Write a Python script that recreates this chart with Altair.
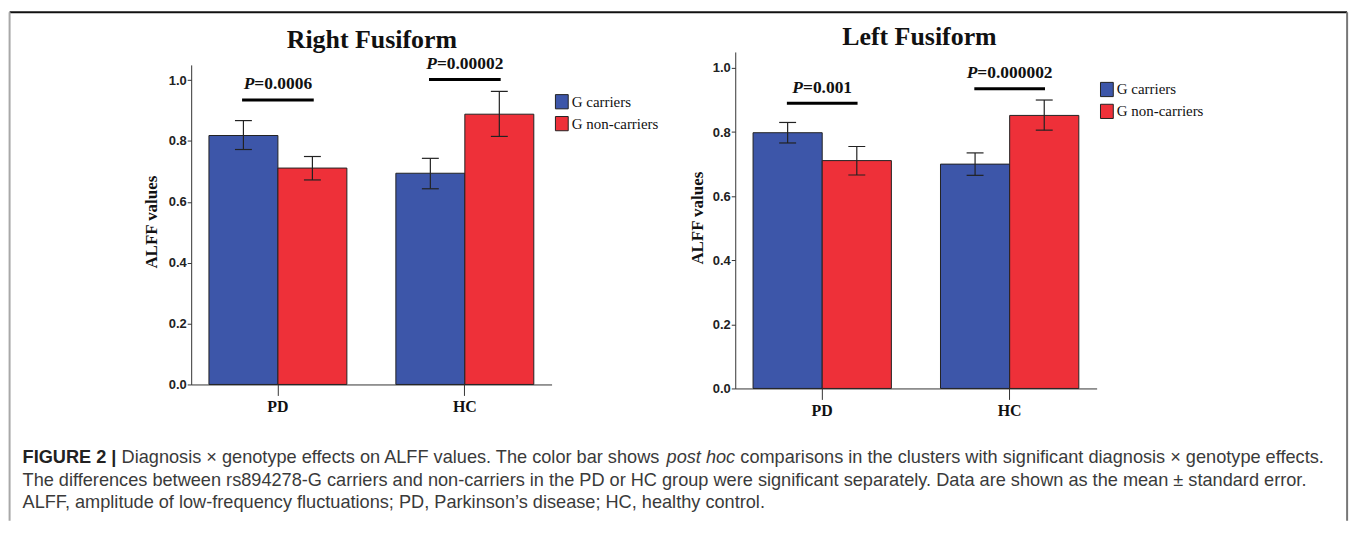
import altair as alt
import pandas as pd

# ---------------- data ----------------
groups = ["PD", "HC"]
genotypes = ["G carriers", "G non-carriers"]
colors = ["#3d56a9", "#ee3039"]
y_ticks = [0.0, 0.2, 0.4, 0.6, 0.8, 1.0]

right_title = "Right Fusiform"
right_mean = [0.818, 0.711, 0.694, 0.888]   # PD-carriers, PD-non, HC-carriers, HC-non
right_low = [0.772, 0.672, 0.643, 0.815]
right_high = [0.867, 0.749, 0.743, 0.963]
right_p = ["0.0006", "0.00002"]
right_p_y = [0.935, 1.002]

left_title = "Left Fusiform"
left_mean = [0.798, 0.711, 0.700, 0.852]
left_low = [0.766, 0.666, 0.665, 0.806]
left_high = [0.830, 0.755, 0.735, 0.900]
left_p = ["0.001", "0.000002"]
left_p_y = [0.890, 0.935]

caption_line1 = [
    ("FIGURE 2 |", "bold", "normal"),
    ("Diagnosis \u00d7 genotype effects on ALFF values. The color bar shows", "normal", "normal"),
    ("post hoc", "normal", "italic"),
    ("comparisons in the clusters with significant diagnosis \u00d7 genotype effects.", "normal", "normal"),
]
caption_line2 = ("The differences between rs894278-G carriers and non-carriers in the PD or HC group "
                 "were significant separately. Data are shown as the mean \u00b1 standard error.")
caption_line3 = "ALFF, amplitude of low-frequency fluctuations; PD, Parkinson\u2019s disease; HC, healthy control."

# ---------------- text metrics (for laying out mixed-style text) ----------------
ARIAL = {' ': 278, ',': 278, '-': 333, '.': 278, ';': 278, '|': 260, '\u00d7': 584, '\u00b1': 584, '\u2019': 222,
         'A': 667, 'B': 667, 'C': 722, 'D': 722, 'E': 667, 'F': 611, 'G': 778, 'H': 722, 'I': 278, 'L': 556,
         'P': 667, 'R': 722, 'T': 611, 'U': 722,
         'a': 556, 'b': 556, 'c': 500, 'd': 556, 'e': 556, 'f': 278, 'g': 556, 'h': 556, 'i': 222, 'j': 222,
         'k': 500, 'l': 222, 'm': 833, 'n': 556, 'o': 556, 'p': 556, 'q': 556, 'r': 333, 's': 500, 't': 278,
         'u': 556, 'v': 500, 'w': 722, 'x': 500, 'y': 500, 'z': 500}
ARIAL_BOLD = {' ': 278, '|': 280, 'F': 611, 'I': 278, 'G': 778, 'U': 722, 'R': 722, 'E': 667}
TIMES_BOLD = {'P': 611, '=': 570, '.': 250}


def em(s, table, default=556):
    return sum(table.get(c, default) for c in s) / 1000.0


# ---------------- layout constants ----------------
R_CFG = dict(width=362, height=338, yrange=[334, 13], xoff=-4, tx=181.5, ty=-4.3, ytx=-40, yty=170.5,
             lx=364.3, ly=42, sigw=72)
L_CFG = dict(width=363, height=338, yrange=[338, 0], xoff=0, tx=185, ty=-7, ytx=-38.3, yty=166.5,
             lx=365.3, ly=29.7, sigw=71)
P_FS = 17.5
one = pd.DataFrame({"k": [0]})


def panel(title, mean, low, high, pvals, py, cfg, extra=()):
    rows = []
    for i, g in enumerate(groups):
        for j, s in enumerate(genotypes):
            k = 2 * i + j
            rows.append({"group": g, "geno": s, "mean": mean[k], "low": low[k], "high": high[k]})
    df = pd.DataFrame(rows)
    sig = pd.DataFrame({"group": groups, "eq": ["=" + p for p in pvals], "py": py})

    yscale = alt.Scale(domain=[0, 1.05], range=cfg["yrange"], nice=False)
    yaxis = alt.Axis(values=y_ticks, format=".1f", title="ALFF values", grid=False,
                     domainColor="#333", domainWidth=1, tickColor="#333", tickSize=4, tickWidth=1,
                     labelFont="Liberation Sans", labelFontWeight="bold", labelFontSize=13,
                     labelColor="#222", labelPadding=1,
                     titleFont="Liberation Serif", titleFontWeight="bold", titleFontSize=17,
                     titleColor="#111", titleAngle=270, titleAlign="center", titleBaseline="middle",
                     titleX=cfg["ytx"], titleY=cfg["yty"])
    xscale = alt.Scale(domain=groups, paddingInner=0.262, paddingOuter=0.095)
    xaxis = alt.Axis(title=None, labelAngle=0, offset=cfg["xoff"], domainColor="#333", domainWidth=1,
                     tickColor="#333", tickSize=11, tickWidth=1, labelFont="Liberation Serif",
                     labelFontWeight="bold", labelFontSize=16, labelColor="#111", labelPadding=3)
    X = alt.X("group:N", scale=xscale, axis=xaxis)
    XO = alt.XOffset("geno:N", scale=alt.Scale(domain=genotypes, paddingInner=0, paddingOuter=0))

    def Y(f):
        return alt.Y(f + ":Q", scale=yscale, axis=yaxis)

    legend = alt.Legend(title=None, orient="none", legendX=cfg["lx"], legendY=cfg["ly"], padding=0,
                        symbolType="M-0.9,-1H0.9V1H-0.9Z", symbolSize=204, symbolStrokeColor="#222",
                        symbolStrokeWidth=1, symbolOpacity=1, labelFont="Liberation Serif",
                        labelFontSize=15, labelColor="#111", labelOffset=2, rowPadding=2)
    color = alt.Color("geno:N", scale=alt.Scale(domain=genotypes, range=colors), legend=legend)

    bars = alt.Chart(df).mark_bar(stroke="#222", strokeWidth=1, opacity=1).encode(
        x=X, xOffset=XO, y=Y("mean"), color=color)
    err = alt.Chart(df).mark_rule(color="#222", strokeWidth=1.2).encode(
        x=X, xOffset=XO, y=Y("low"), y2="high:Q")
    cap_hi = alt.Chart(df).mark_tick(color="#222", thickness=1.2, size=17, opacity=1).encode(
        x=X, xOffset=XO, y=Y("high"))
    cap_lo = alt.Chart(df).mark_tick(color="#222", thickness=1.2, size=17, opacity=1).encode(
        x=X, xOffset=XO, y=Y("low"))
    sig_lines = alt.Chart(sig).mark_tick(color="#000", thickness=3, size=cfg["sigw"], opacity=1).encode(
        x=X, y=Y("py"))

    layers = [bars, err, cap_hi, cap_lo, sig_lines]
    for g, p in zip(groups, pvals):
        w_p = TIMES_BOLD['P'] / 1000.0 * P_FS
        w_r = em("=" + p, TIMES_BOLD, 500) * P_FS
        split = -(w_p + w_r) / 2 + w_p
        base_t = alt.Chart(sig).transform_filter(alt.datum.group == g)
        layers.append(base_t.mark_text(text="P", font="Liberation Serif", fontWeight="bold",
                                       fontStyle="italic", fontSize=P_FS, align="right",
                                       baseline="alphabetic", dx=split, dy=-10.5, color="#111").encode(
            x=X, y=Y("py")))
        layers.append(base_t.mark_text(font="Liberation Serif", fontWeight="bold", fontSize=P_FS,
                                       align="left", baseline="alphabetic", dx=split, dy=-10.5,
                                       color="#111").encode(x=X, y=Y("py"), text="eq:N"))
    # panel title
    layers.append(alt.Chart(one).mark_text(text=title, font="Liberation Serif", fontSize=26,
                                           fontWeight="bold", color="#111", align="center",
                                           baseline="alphabetic").encode(
        x=alt.value(cfg["tx"]), y=alt.value(cfg["ty"])))
    layers.extend(extra)
    return alt.layer(*layers).properties(width=cfg["width"], height=cfg["height"])


# ---------------- figure frame and caption (pixel offsets relative to first panel) ----------------
B_L, B_R, B_T, B_B = -182.4, 1161.1, -40, 471
frame = [
    alt.Chart(one).mark_rule(color="#111", strokeWidth=2).encode(
        x=alt.value(B_L), x2=alt.value(B_R), y=alt.value(B_T)),
    alt.Chart(one).mark_rule(color="#a8a8a8", strokeWidth=2).encode(
        x=alt.value(B_L), y=alt.value(B_T), y2=alt.value(B_B)),
    alt.Chart(one).mark_rule(color="#777", strokeWidth=2).encode(
        x=alt.value(B_R), y=alt.value(B_T), y2=alt.value(B_B)),
]

CAP_X = -169.4
CAP_Y = [408, 430.5, 453]
space = ARIAL[' '] / 1000.0
total_em = 0
for i, (s, w, st) in enumerate(caption_line1):
    total_em += em(s, ARIAL_BOLD if w == "bold" else ARIAL)
    if i:
        total_em += space
CAP_FS = 1308.0 / total_em

caption = []
xpos = CAP_X
for s, w, st in caption_line1:
    caption.append(alt.Chart(one).mark_text(
        text=s, font="Liberation Sans", fontSize=CAP_FS, fontWeight=w, fontStyle=st,
        align="left", baseline="middle", color="#222" if w == "bold" else "#3a3a3a").encode(
        x=alt.value(xpos), y=alt.value(CAP_Y[0])))
    xpos += (em(s, ARIAL_BOLD if w == "bold" else ARIAL) + space) * CAP_FS
for line, yy in ((caption_line2, CAP_Y[1]), (caption_line3, CAP_Y[2])):
    caption.append(alt.Chart(one).mark_text(
        text=line, font="Liberation Sans", fontSize=CAP_FS, align="left", baseline="middle",
        color="#3a3a3a").encode(x=alt.value(CAP_X), y=alt.value(yy)))

right_panel = panel(right_title, right_mean, right_low, right_high, right_p, right_p_y, R_CFG,
                    extra=frame + caption)
left_panel = panel(left_title, left_mean, left_low, left_high, left_p, left_p_y, L_CFG)

chart = alt.hconcat(right_panel, left_panel, spacing=184.5, bounds="flush").resolve_scale(
    x="independent", y="independent", xOffset="independent", color="independent"
).configure_view(stroke=None).properties(
    padding={"left": 0, "top": 2, "right": 0, "bottom": 0}, background="white")

chart.save("out.html", embed_options={"renderer": "svg", "actions": False})
